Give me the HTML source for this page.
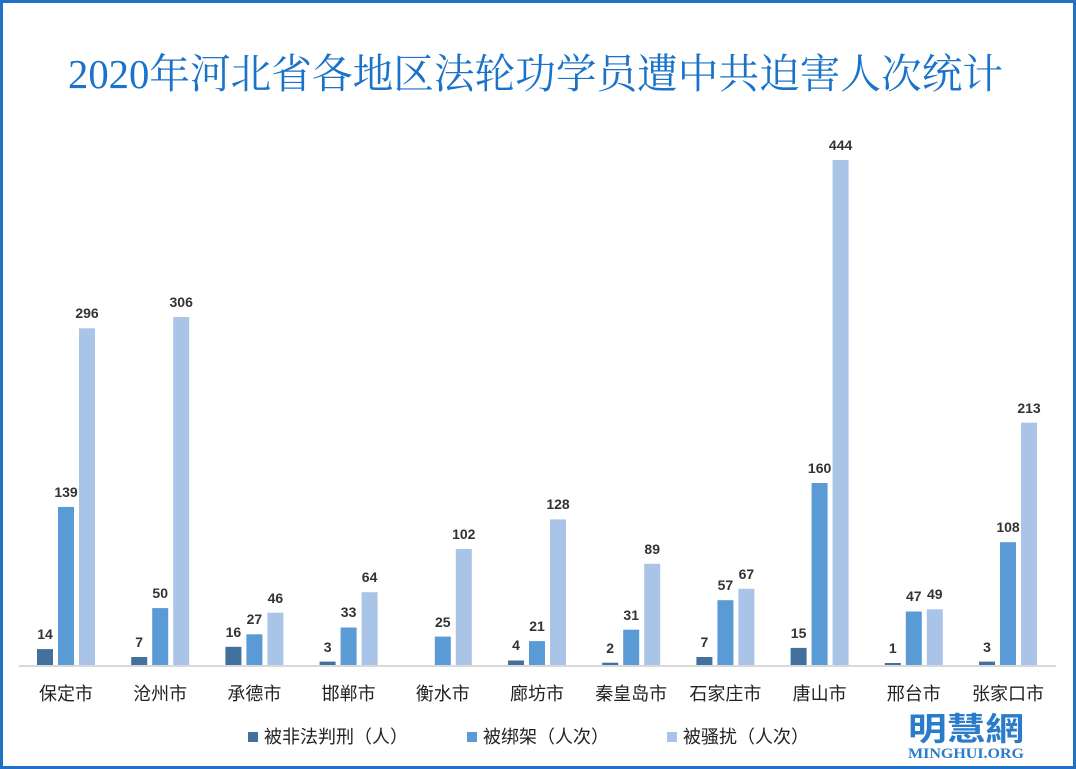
<!DOCTYPE html>
<html><head><meta charset="utf-8"><style>
html,body{margin:0;padding:0;background:#fff}
svg{display:block}
</style></head><body>
<svg width="1076" height="769" xmlns="http://www.w3.org/2000/svg">
<rect x="1.5" y="1.5" width="1073" height="766" fill="#fff" stroke="#1f72c6" stroke-width="3"/>
<text x="68" y="88" font-family="'Liberation Serif','Noto Serif CJK SC',serif" font-size="41" fill="#1a73c8" textLength="935" lengthAdjust="spacingAndGlyphs">2020年河北省各地区法轮功学员遭中共迫害人次统计</text>
<line x1="19" y1="666" x2="1056" y2="666" stroke="#d9d9d9" stroke-width="2"/>
<g fill="#41719c">
<rect x="37" y="649.1" width="16" height="15.9"/>
<rect x="131.2" y="657" width="16" height="8"/>
<rect x="225.4" y="646.8" width="16" height="18.2"/>
<rect x="319.6" y="661.6" width="16" height="3.4"/>
<rect x="508" y="660.5" width="16" height="4.5"/>
<rect x="602.2" y="662.7" width="16" height="2.3"/>
<rect x="696.4" y="657" width="16" height="8"/>
<rect x="790.6" y="647.9" width="16" height="17.1"/>
<rect x="884.8" y="663" width="16" height="2"/>
<rect x="979" y="661.6" width="16" height="3.4"/>
</g>
<g fill="#5b9bd5">
<rect x="58" y="506.9" width="16" height="158.1"/>
<rect x="152.2" y="608.1" width="16" height="56.9"/>
<rect x="246.4" y="634.3" width="16" height="30.7"/>
<rect x="340.6" y="627.5" width="16" height="37.5"/>
<rect x="434.8" y="636.6" width="16" height="28.4"/>
<rect x="529" y="641.1" width="16" height="23.9"/>
<rect x="623.2" y="629.7" width="16" height="35.3"/>
<rect x="717.4" y="600.2" width="16" height="64.8"/>
<rect x="811.6" y="483" width="16" height="182"/>
<rect x="905.8" y="611.5" width="16" height="53.5"/>
<rect x="1000" y="542.2" width="16" height="122.8"/>
</g>
<g fill="#a9c4e6">
<rect x="79" y="328.3" width="16" height="336.7"/>
<rect x="173.2" y="317" width="16" height="348"/>
<rect x="267.4" y="612.7" width="16" height="52.3"/>
<rect x="361.6" y="592.2" width="16" height="72.8"/>
<rect x="455.8" y="549" width="16" height="116"/>
<rect x="550" y="519.4" width="16" height="145.6"/>
<rect x="644.2" y="563.8" width="16" height="101.2"/>
<rect x="738.4" y="588.8" width="16" height="76.2"/>
<rect x="832.6" y="160" width="16" height="505"/>
<rect x="926.8" y="609.3" width="16" height="55.7"/>
<rect x="1021" y="422.7" width="16" height="242.3"/>
</g>
<g font-family="'Liberation Sans',sans-serif" font-size="14" font-weight="bold" fill="#333" text-anchor="middle">
<text x="45" y="639">14</text><text x="66" y="497">139</text><text x="87" y="318">296</text>
<text x="139.2" y="647">7</text><text x="160.2" y="598">50</text><text x="181.2" y="307">306</text>
<text x="233.4" y="637">16</text><text x="254.4" y="624">27</text><text x="275.4" y="603">46</text>
<text x="327.6" y="652">3</text><text x="348.6" y="617">33</text><text x="369.6" y="582">64</text>
<text x="442.8" y="627">25</text><text x="463.8" y="539">102</text>
<text x="516" y="650">4</text><text x="537" y="631">21</text><text x="558" y="509">128</text>
<text x="610.2" y="653">2</text><text x="631.2" y="620">31</text><text x="652.2" y="554">89</text>
<text x="704.4" y="647">7</text><text x="725.4" y="590">57</text><text x="746.4" y="579">67</text>
<text x="798.6" y="638">15</text><text x="819.6" y="473">160</text><text x="840.6" y="150">444</text>
<text x="892.8" y="653">1</text><text x="913.8" y="601">47</text><text x="934.8" y="599">49</text>
<text x="987" y="652">3</text><text x="1008" y="532">108</text><text x="1029" y="413">213</text>
</g>
<g font-family="'Liberation Sans','Noto Sans CJK SC',sans-serif" font-size="18" fill="#222" text-anchor="middle">
<text x="66" y="700">保定市</text><text x="160.2" y="700">沧州市</text><text x="254.4" y="700">承德市</text>
<text x="348.6" y="700">邯郸市</text><text x="442.8" y="700">衡水市</text><text x="537" y="700">廊坊市</text>
<text x="631.2" y="700">秦皇岛市</text><text x="725.4" y="700">石家庄市</text><text x="819.6" y="700">唐山市</text>
<text x="913.8" y="700">邢台市</text><text x="1008" y="700">张家口市</text>
</g>
<g font-family="'Liberation Sans','Noto Sans CJK SC',sans-serif" font-size="18" fill="#222">
<rect x="248" y="732" width="10" height="10" fill="#41719c"/><text x="264" y="743">被非法判刑（人）</text>
<rect x="467" y="732" width="10" height="10" fill="#5b9bd5"/><text x="483" y="743">被绑架（人次）</text>
<rect x="667" y="732" width="10" height="10" fill="#a9c4e6"/><text x="683" y="743">被骚扰（人次）</text>
</g>
<text x="966" y="740" text-anchor="middle" font-family="'Noto Sans CJK SC',sans-serif" font-weight="bold" font-size="32" fill="#2a7bc9" textLength="116" lengthAdjust="spacingAndGlyphs">明慧網</text>
<text x="966" y="758" text-anchor="middle" font-family="'Liberation Serif',serif" font-weight="bold" font-size="15" fill="#2a7bc9" textLength="116" lengthAdjust="spacingAndGlyphs">MINGHUI.ORG</text>
</svg>
</body></html>
